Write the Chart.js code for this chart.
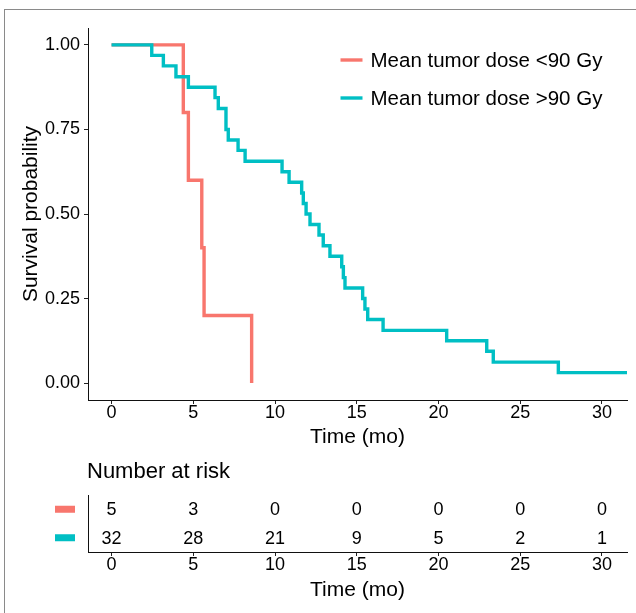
<!DOCTYPE html>
<html><head><meta charset="utf-8">
<script src="https://cdn.jsdelivr.net/npm/chart.js@4.4.0/dist/chart.umd.min.js"></script>
<style>
html,body{margin:0;padding:0;background:#fff;width:636px;height:613px;overflow:hidden;}
#frame{position:absolute;left:4px;top:9px;width:640px;height:620px;border-left:1px solid #8a8a8a;border-top:1px solid #8a8a8a;}
#c1{position:absolute;left:0;top:0;}
#c2{position:absolute;left:0;top:455px;}
</style></head><body>
<div id="frame"></div>
<canvas id="c1" width="636" height="455"></canvas><canvas id="c2" width="636" height="158"></canvas>
<script>
const FONT = "'Liberation Sans', Arial, Helvetica, sans-serif";
const xTicks = [0, 5, 10, 15, 20, 25, 30];
const yTicks = [0, 0.25, 0.5, 0.75, 1];
const seriesNames = ['Mean tumor dose <90 Gy', 'Mean tumor dose >90 Gy'];
const seriesColors = ['#F8766D', '#00BFC4'];
const lowTimes = [0, 4.39, 4.70, 5.52, 5.66, 8.57];
const lowSurv = [1.0, 0.8, 0.6, 0.4, 0.2, 0.0];
const highTimes = [0, 2.46, 3.17, 3.94, 4.70, 6.33, 6.53, 7.00, 7.14, 7.74, 8.17, 10.43, 10.86, 11.63, 11.73, 11.90, 12.14, 12.69, 12.95, 13.36, 14.08, 14.18, 14.28, 15.36, 15.50, 15.67, 16.61, 20.50, 22.95, 23.35, 27.33, 31.53];
const highSurv = [1.000, 0.969, 0.938, 0.906, 0.875, 0.844, 0.812, 0.750, 0.719, 0.688, 0.656, 0.625, 0.594, 0.562, 0.531, 0.500, 0.469, 0.438, 0.406, 0.375, 0.344, 0.312, 0.281, 0.250, 0.219, 0.188, 0.156, 0.125, 0.094, 0.062, 0.031, 0.031];
const riskTimes = [0, 5, 10, 15, 20, 25, 30];
const riskLow = [5, 3, 0, 0, 0, 0, 0];
const riskHigh = [32, 28, 21, 9, 5, 2, 1];

Chart.defaults.font.family = FONT;
Chart.defaults.color = '#000';

const X_MIN = -1.44, X_MAX = 31.53;
const AXIS_W = 88;

function xScale(height, titlePadBottom) {
  return {
    type: 'linear', min: X_MIN, max: X_MAX,
    afterBuildTicks: s => { s.ticks = xTicks.map(v => ({value: v})); },
    afterFit: s => { s.height = height; },
    ticks: {color: '#000', font: {size: 18, lineHeight: 1}, padding: 0, maxRotation: 0, autoSkip: false, callback: v => String(v)},
    grid: {display: true, drawOnChartArea: false, drawTicks: true, tickLength: 4, color: '#222', lineWidth: 1},
    border: {display: true, color: '#111', width: 1},
    title: {display: true, text: 'Time (mo)', color: '#000', font: {size: 21}, padding: {top: 0, bottom: titlePadBottom}}
  };
}

const legendPlugin = {
  id: 'kmLegend',
  afterDraw(chart) {
    const ctx = chart.ctx;
    const rows = [{i: 1, y: 60}, {i: 0, y: 98}];
    ctx.save();
    rows.forEach(r => {
      const ds = chart.data.datasets[r.i];
      ctx.strokeStyle = ds.borderColor;
      ctx.lineWidth = 3.4;
      ctx.beginPath(); ctx.moveTo(340.5, r.y); ctx.lineTo(362.5, r.y); ctx.stroke();
      ctx.fillStyle = '#000';
      ctx.font = '20.5px ' + FONT;
      ctx.textBaseline = 'middle'; ctx.textAlign = 'left';
      ctx.fillText(ds.label, 370.5, r.y + 1);
    });
    ctx.restore();
  }
};

new Chart(document.getElementById('c1'), {
  type: 'line',
  data: {
    datasets: [
      {label: seriesNames[1], data: highTimes.map((t, i) => ({x: t, y: highSurv[i]})), borderColor: seriesColors[1], borderWidth: 3.4, stepped: true, pointRadius: 0, fill: false, order: 0, borderJoinStyle: 'miter', borderCapStyle: 'butt'},
      {label: seriesNames[0], data: lowTimes.map((t, i) => ({x: t, y: lowSurv[i]})), borderColor: seriesColors[0], borderWidth: 3.4, stepped: true, pointRadius: 0, fill: false, order: 1, borderJoinStyle: 'miter', borderCapStyle: 'butt'}
    ]
  },
  options: {
    responsive: false, animation: false, devicePixelRatio: 1,
    layout: {padding: {left: 0, right: 9, top: 28, bottom: 0}},
    plugins: {legend: {display: false}, tooltip: {enabled: false}, title: {display: false}},
    scales: {
      x: xScale(55, 5.4),
      y: {
        type: 'linear', min: -0.05, max: 1.05,
        afterBuildTicks: s => { s.ticks = yTicks.map(v => ({value: v})); },
        afterFit: s => { s.width = AXIS_W; },
        ticks: {color: '#000', font: {size: 18, lineHeight: 1}, padding: 4, callback: v => Number(v).toFixed(2)},
        grid: {display: true, drawOnChartArea: false, drawTicks: true, tickLength: 4, color: '#222', lineWidth: 1},
        border: {display: true, color: '#111', width: 1},
        title: {display: true, text: 'Survival probability', color: '#000', font: {size: 21}, padding: {top: 18.4, bottom: 0}}
      }
    }
  },
  plugins: [legendPlugin]
});

const riskPlugin = {
  id: 'riskTable',
  afterDraw(chart) {
    const ctx = chart.ctx;
    const ys = chart.scales.y;
    ctx.save();
    ctx.fillStyle = '#000';
    ctx.font = '22px ' + FONT;
    ctx.textBaseline = 'middle'; ctx.textAlign = 'left';
    ctx.fillText('Number at risk', chart.chartArea.left - 1, 17);
    ctx.font = '18px ' + FONT;
    ctx.textAlign = 'center';
    const counts = [riskLow, riskHigh];
    chart.data.datasets.forEach((ds, di) => {
      const meta = chart.getDatasetMeta(di);
      meta.data.forEach((pt, j) => {
        ctx.fillStyle = '#000';
        ctx.fillText(String(counts[di][j]), pt.x, pt.y + 1);
      });
      const yy = ys.getPixelForValue(di);
      ctx.fillStyle = ds.borderColor;
      ctx.fillRect(55, yy - 3.5, 20, 7);
    });
    ctx.restore();
  }
};

new Chart(document.getElementById('c2'), {
  type: 'scatter',
  data: {
    datasets: [
      {label: seriesNames[0], data: riskTimes.map(t => ({x: t, y: seriesNames[0]})), borderColor: seriesColors[0], backgroundColor: seriesColors[0], pointRadius: 0},
      {label: seriesNames[1], data: riskTimes.map(t => ({x: t, y: seriesNames[1]})), borderColor: seriesColors[1], backgroundColor: seriesColors[1], pointRadius: 0}
    ]
  },
  options: {
    responsive: false, animation: false, devicePixelRatio: 1,
    layout: {padding: {left: 0, right: 9, top: 40, bottom: 0}},
    plugins: {legend: {display: false}, tooltip: {enabled: false}},
    scales: {
      x: xScale(61, 10.4),
      y: {
        type: 'category', labels: seriesNames, offset: true,
        afterFit: s => { s.width = AXIS_W; },
        ticks: {display: false},
        grid: {display: false},
        border: {display: true, color: '#111', width: 1}
      }
    }
  },
  plugins: [riskPlugin]
});
</script>
</body></html>
